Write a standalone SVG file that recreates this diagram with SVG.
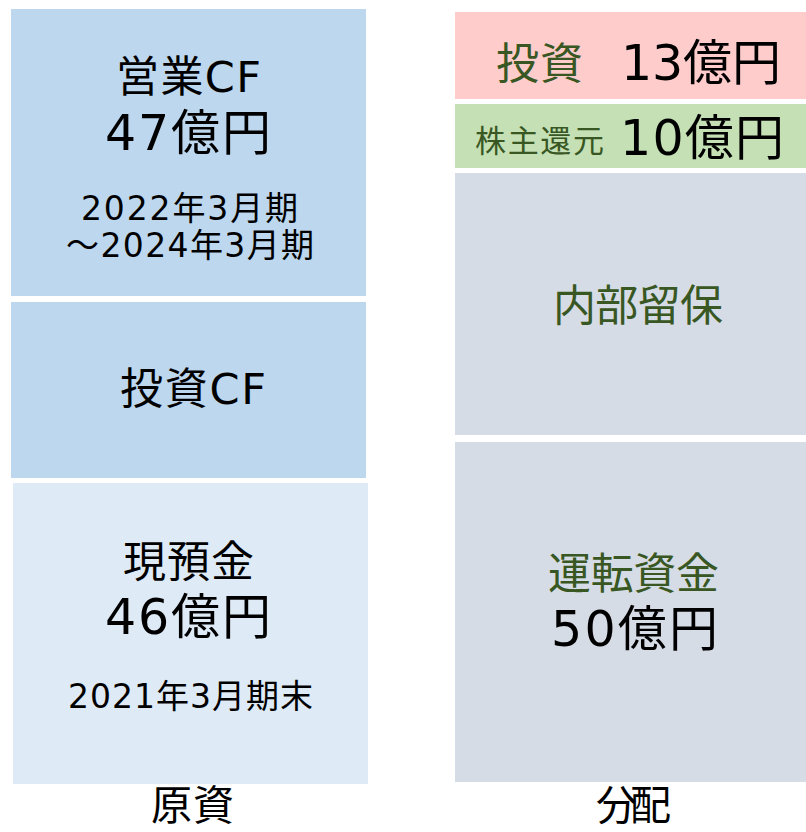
<svg xmlns="http://www.w3.org/2000/svg" width="806" height="832" viewBox="0 0 806 832">
<style>
text{font-family:"DejaVu Sans","Noto Sans CJK JP",sans-serif;fill:#000}
.g{fill:#385723}
.l{font-size:43px}
.b{font-size:49px}
.s{font-size:33px}
.cap{font-family:"Noto Sans CJK JP",sans-serif;font-size:41px}
</style>
<rect width="806" height="832" fill="#fff"/>
<g id="eigyo-cf">
<rect x="11" y="9" width="355" height="287" fill="#BDD7EE"/>
<text class="l" x="116" y="92" textLength="145" lengthAdjust="spacing">営業CF</text>
<text class="b" x="105" y="150" textLength="166" lengthAdjust="spacing">47億円</text>
<text class="s" x="81" y="220" textLength="217" lengthAdjust="spacing">2022年3月期</text>
<text class="s" x="66" y="257" textLength="248" lengthAdjust="spacing">～2024年3月期</text>
</g>
<g id="toshi-cf">
<rect x="11" y="302" width="355" height="176" fill="#BDD7EE"/>
<text class="l" x="120" y="404" textLength="146" lengthAdjust="spacing">投資CF</text>
</g>
<g id="genyokin">
<rect x="13" y="483" width="355" height="301" fill="#DEEBF7"/>
<text class="l" x="123" y="577" textLength="131" lengthAdjust="spacing">現預金</text>
<text class="b" x="105" y="634" textLength="166" lengthAdjust="spacing">46億円</text>
<text class="s" x="68" y="708" textLength="245" lengthAdjust="spacing">2021年3月期末</text>
</g>
<g id="genshi-label">
<text class="cap" x="151" y="820" textLength="83" lengthAdjust="spacing">原資</text>
</g>
<g id="toshi">
<rect x="455" y="12" width="351" height="87" fill="#FFCCCC"/>
<text class="l g" x="496" y="79" textLength="87" lengthAdjust="spacing">投資</text>
<text class="b" x="621" y="80" textLength="160" lengthAdjust="spacing">13億円</text>
</g>
<g id="kabunushi">
<rect x="455" y="104" width="351" height="64" fill="#C5E0B4"/>
<text class="g" x="475" y="152" style="font-size:31px" textLength="129" lengthAdjust="spacing">株主還元</text>
<text class="b" x="620" y="155" textLength="164" lengthAdjust="spacing">10億円</text>
</g>
<g id="naibu">
<rect x="455" y="173" width="351" height="262" fill="#D6DCE5"/>
<text class="l g" x="553" y="321" textLength="170" lengthAdjust="spacing">内部留保</text>
</g>
<g id="unten">
<rect x="455" y="442" width="351" height="340" fill="#D6DCE5"/>
<text class="l g" x="548" y="589" textLength="171" lengthAdjust="spacing">運転資金</text>
<text class="b" x="551" y="646" textLength="167" lengthAdjust="spacing">50億円</text>
</g>
<g id="haibun-label">
<text class="cap" x="596" y="820" textLength="75" lengthAdjust="spacing">分配</text>
</g>
<g id="connectors"></g>
</svg>
